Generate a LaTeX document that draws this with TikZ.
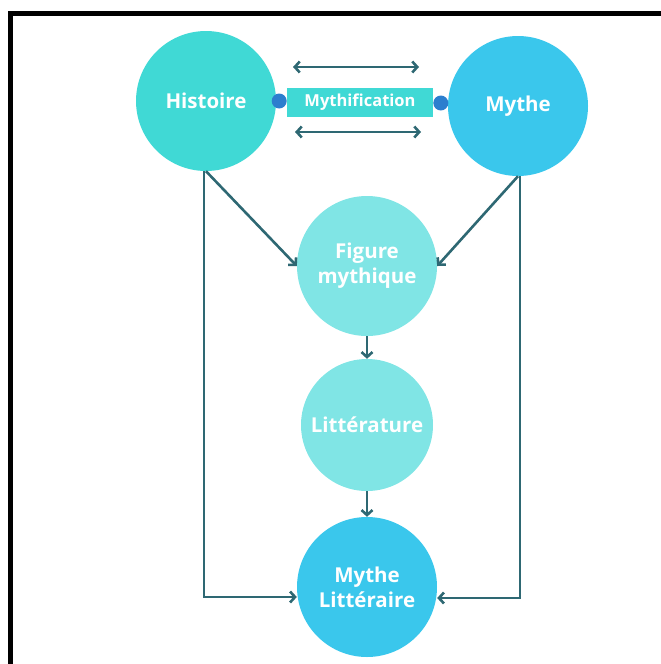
\documentclass[tikz,border=0pt]{standalone}
\usepackage{fontspec}
\setmainfont{Open Sans}
\usepackage{tikz}
\usetikzlibrary{positioning}
\usetikzlibrary{shapes,arrows.meta}
\definecolor{histcol}{RGB}{64,217,213}
\definecolor{mythcol}{RGB}{58,199,236}
\definecolor{lightcol}{RGB}{128,229,229}
\definecolor{dotcol}{RGB}{44,126,206}
\definecolor{linecol}{RGB}{46,104,115}
\tikzstyle{bubble} = [circle, minimum size=140pt, inner sep=0pt, text=white,
    align=center, font=\fontsize{20.5}{25}\selectfont\bfseries]
\tikzstyle{label} = [rectangle, fill=histcol, text=white, minimum width=146pt,
    minimum height=29pt, inner sep=0pt, font=\fontsize{16.5}{19}\selectfont\bfseries]
\tikzstyle{dot} = [circle, fill=dotcol, minimum size=15pt, inner sep=0pt]
\tikzstyle{line} = [draw=linecol, line width=2.6pt, -{Straight Barb[length=5pt,width=11pt]}]
\tikzstyle{both} = [draw=linecol, line width=2.6pt,
    {Straight Barb[length=5pt,width=11pt]}-{Straight Barb[length=5pt,width=11pt]}]

\begin{document}
\begin{tikzpicture}[x=1pt, y=-1pt, node distance = 160pt]
        \useasboundingbox (0,0) rectangle (661,664);
        \draw [line width=5pt] (10.5,670) -- (10.5,13) -- (670,13);
        \node [bubble, fill=histcol] (histoire) at (206,101) {Histoire};
        \node [bubble, fill=mythcol] (mythe) at (518,106) {Mythe};
        \node [label] (mythif) at (360,102) {Mythification};
        \node [dot, xshift=3pt] (dotl) at (histoire.east) {};
        \node [dot, xshift=-7pt, yshift=3pt] (dotr) at (mythe.west) {};
        \node [bubble, fill=lightcol] (figure) at (367,266) {Figure\\mythique};
        \node [bubble, fill=lightcol, minimum size=132pt, below of=figure, node distance=159pt] (litt) {Littérature};
        \node [bubble, fill=mythcol, below of=litt, node distance=162pt] (mlitt) {Mythe\\Littéraire};
        \coordinate (ta) at (293,67);
        \coordinate (tb) at (419,67);
        \coordinate (ba) at (295,132);
        \coordinate (bb) at (421,132);
        % edges
        \path [both] (ta) -- (tb);
        \path [both] (ba) -- (bb);
        \path [line] (histoire.south) -- (figure.west);
        \path [line] (mythe.south) -- (figure.east);
        \path [line] (figure.south) -- (litt.north);
        \path [line] (litt.south) -- (mlitt.north);
        \path [line] ([xshift=-2pt]histoire.south) |- ([yshift=-10pt]mlitt.west);
        \path [line] ([xshift=2pt]mythe.south) |- ([yshift=-11pt]mlitt.east);
    \end{tikzpicture}
\end{document}
